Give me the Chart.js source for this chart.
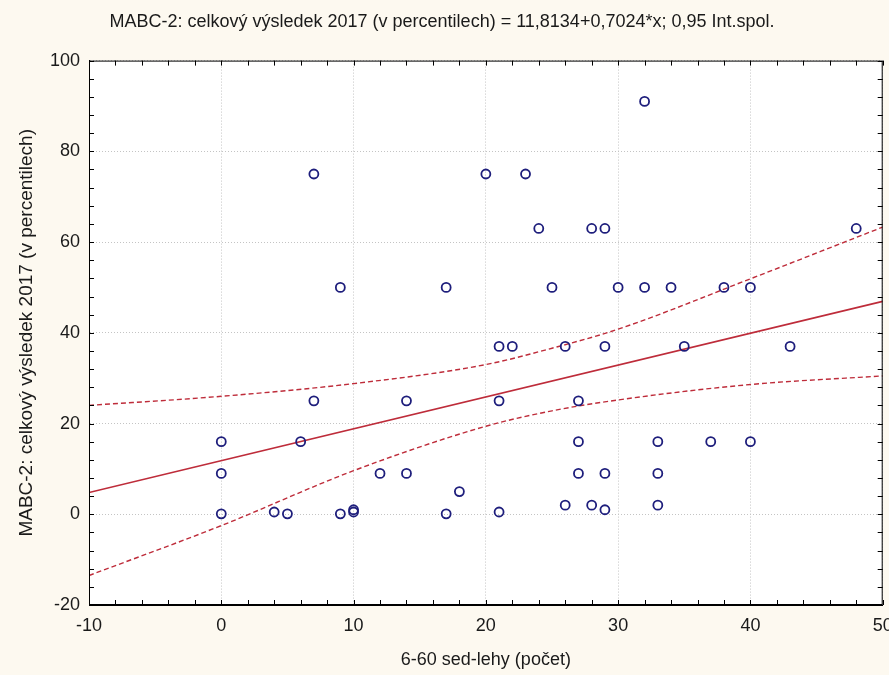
<!DOCTYPE html>
<html>
<head>
<meta charset="utf-8">
<script src="https://cdn.jsdelivr.net/npm/chart.js@4/dist/chart.umd.min.js"></script>
<style>
  body { margin: 0; background: #fdf9f0; }
  #wrap { width: 889px; height: 675px; }
</style>
</head>
<body>
<div id="wrap"><canvas id="regressionChart"></canvas></div>
<script>
// sit-ups count vs. MABC-2 total score (percentile)
const sitUps = [0, 0, 0, 4, 5, 6, 7, 7, 9, 9, 10, 10, 12, 14, 14, 17, 17, 18, 20, 21, 21, 21, 22, 23, 24, 25,
  26, 26, 27, 27, 27, 28, 28, 29, 29, 29, 29, 30, 32, 32, 33, 33, 33, 34, 35, 37, 38, 40, 40, 43, 48];
const mabcScore = [16, 9, 0.1, 0.5, 0.1, 16, 75, 25, 50, 0.1, 1, 0.5, 9, 25, 9, 50, 0.1, 5, 75, 37, 25, 0.5, 37, 75, 63, 50,
  37, 2, 25, 16, 9, 63, 2, 63, 37, 9, 1, 50, 91, 50, 16, 9, 2, 50, 37, 16, 50, 50, 16, 37, 63];

// fitted line ends (11,8134 + 0,7024*x)
const fitX = [-10, 50];
const fitY = [4.79, 46.93];

// 0,95 confidence band
const bandX = [-10, 0, 10, 20, 25, 30, 40, 50];
const bandUpper = [24.0, 26.0, 28.8, 33.0, 36.6, 40.8, 51.9, 63.3];
const bandLower = [-13.5, -2.5, 9.6, 19.4, 22.8, 25.2, 28.6, 30.5];

const xTicks = [-10, 50, 10];
const yTicks = [-20, 100, 20];

const FONT = "'Liberation Sans', Arial, sans-serif";
const RED = "#be2c3a";

const toPoints = (xs, ys) => xs.map((x, i) => ({ x: x, y: ys[i] }));

// white plot area, frame and the small inward ticks on every side
const framePlugin = {
  id: "frame",
  beforeDraw(chart) {
    const { ctx, chartArea: a } = chart;
    ctx.save();
    ctx.fillStyle = "#ffffff";
    ctx.fillRect(a.left, a.top, a.right - a.left, a.bottom - a.top);
    ctx.restore();
  },
  afterDraw(chart) {
    const { ctx, chartArea: a, scales } = chart;
    ctx.save();
    ctx.strokeStyle = "#000000";
    ctx.lineWidth = 1;
    ctx.strokeRect(a.left + 0.5, a.top + 0.5, a.right - a.left - 1, a.bottom - a.top - 1);
    ctx.beginPath();
    for (let v = xTicks[0]; v <= xTicks[1]; v += 2) {
      const px = Math.round(scales.x.getPixelForValue(v)) + 0.5;
      ctx.moveTo(px, a.bottom);
      ctx.lineTo(px, a.bottom - 5);
      ctx.moveTo(px, a.top);
      ctx.lineTo(px, a.top + 5);
    }
    for (let v = yTicks[0]; v <= yTicks[1]; v += 4) {
      const py = Math.round(scales.y.getPixelForValue(v)) + 0.5;
      ctx.moveTo(a.left, py);
      ctx.lineTo(a.left + 5, py);
      ctx.moveTo(a.right, py);
      ctx.lineTo(a.right - 5, py);
    }
    ctx.stroke();
    ctx.restore();
  },
};

const ctx = document.getElementById("regressionChart").getContext("2d");

new Chart(ctx, {
  type: "scatter",
  data: {
    datasets: [
      {
        label: "MABC-2",
        data: toPoints(sitUps, mabcScore),
        pointRadius: 4.5,
        pointBorderWidth: 1.8,
        borderColor: "#1e1e7c",
        backgroundColor: "rgba(255,255,255,0)",
      },
      {
        label: "fit",
        data: toPoints(fitX, fitY),
        showLine: true,
        pointRadius: 0,
        borderColor: RED,
        borderWidth: 1.6,
      },
      {
        label: "upper",
        data: toPoints(bandX, bandUpper),
        showLine: true,
        pointRadius: 0,
        cubicInterpolationMode: "monotone",
        borderColor: RED,
        borderWidth: 1.4,
        borderDash: [5, 3],
      },
      {
        label: "lower",
        data: toPoints(bandX, bandLower),
        showLine: true,
        pointRadius: 0,
        cubicInterpolationMode: "monotone",
        borderColor: RED,
        borderWidth: 1.4,
        borderDash: [5, 3],
      },
    ],
  },
  options: {
    responsive: true,
    maintainAspectRatio: false,
    animation: false,
    layout: { padding: { left: 0, right: 5, top: 0, bottom: 0 } },
    plugins: {
      legend: { display: false },
      tooltip: { enabled: false },
      title: {
        display: true,
        text: "MABC-2: celkový výsledek 2017 (v percentilech) = 11,8134+0,7024*x; 0,95 Int.spol.",
        color: "#1a1a1a",
        font: { family: FONT, size: 18, weight: "normal", lineHeight: 1.2 },
        padding: { top: 11, bottom: 28 },
      },
    },
    scales: {
      x: {
        type: "linear",
        position: "bottom",
        min: xTicks[0],
        max: xTicks[1],
        ticks: {
          stepSize: xTicks[2],
          color: "#1a1a1a",
          font: { family: FONT, size: 18 },
          padding: 10,
          maxRotation: 0,
        },
        grid: { color: "#c4c4c4", drawTicks: false },
        border: { color: "#000000", width: 1, dash: [1, 2] },
        title: {
          display: true,
          text: "6-60 sed-lehy (počet)",
          color: "#1a1a1a",
          font: { family: FONT, size: 18, lineHeight: 1.2 },
          padding: { top: 4, bottom: 4 },
        },
        afterFit(scale) {
          scale.height = 70;
          scale.paddingLeft = 0;
          scale.paddingRight = 0;
        },
      },
      y: {
        type: "linear",
        min: yTicks[0],
        max: yTicks[1],
        ticks: {
          stepSize: yTicks[2],
          color: "#1a1a1a",
          font: { family: FONT, size: 18 },
          padding: 9,
        },
        grid: { color: "#c4c4c4", drawTicks: false },
        border: { color: "#000000", width: 1, dash: [1, 2] },
        title: {
          display: true,
          text: "MABC-2: celkový výsledek 2017 (v percentilech)",
          color: "#1a1a1a",
          font: { family: FONT, size: 19, lineHeight: 1.2 },
          padding: { top: 15, bottom: 4 },
        },
        afterFit(scale) {
          scale.width = 89;
          scale.paddingTop = 0;
          scale.paddingBottom = 0;
        },
      },
    },
  },
  plugins: [framePlugin],
});
</script>
</body>
</html>
